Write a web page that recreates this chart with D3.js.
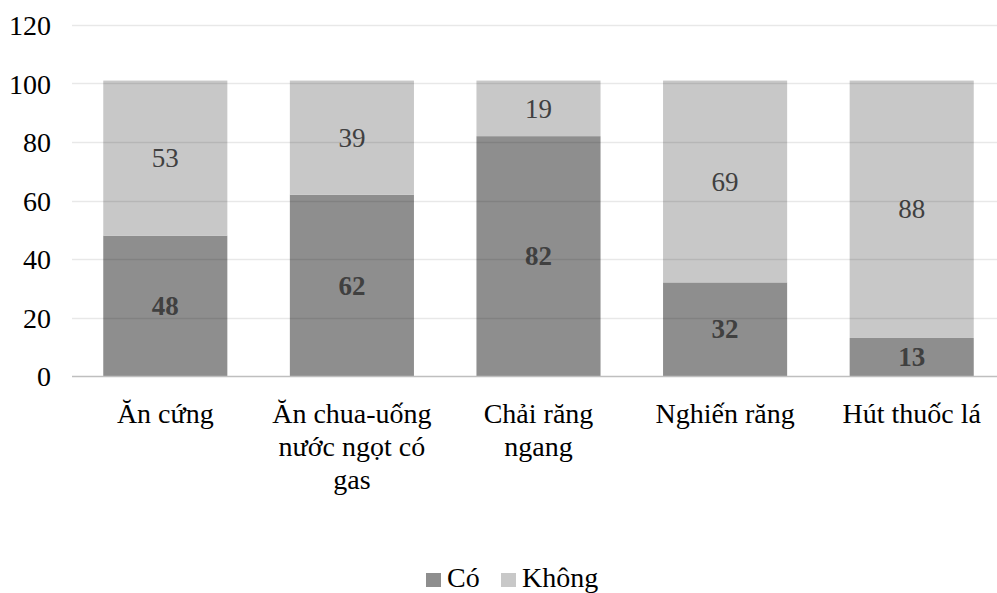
<!DOCTYPE html>
<html>
<head>
<meta charset="utf-8">
<script src="https://cdn.jsdelivr.net/npm/d3@7/dist/d3.min.js"></script>
<style>
  html, body { margin: 0; padding: 0; background: #fff; }
</style>
</head>
<body>
<svg id="chart" width="997" height="593"></svg>
<script>
const categories = ["Ăn cứng", "Ăn chua-uống nước ngọt có gas", "Chải răng ngang", "Nghiến răng", "Hút thuốc lá"];
const seriesNames = ["Có", "Không"];
const coValues = [48, 62, 82, 32, 13];
const khongValues = [53, 39, 19, 69, 88];
const yTicks = [0, 20, 40, 60, 80, 100, 120];

const FONT = "Liberation Serif";
const colors = { "Có": "#8e8e8e", "Không": "#c8c8c8" };

const svg = d3.select("#chart");
const margin = { left: 72, right: -8, top: 25, bottom: 217 };
const W = 997, H = 593;

const x = d3.scaleBand()
  .domain(categories)
  .range([margin.left, W - margin.right])
  .paddingInner(0.335)
  .paddingOuter(0.1675);

const y = d3.scaleLinear()
  .domain([0, 120])
  .range([H - margin.bottom, margin.top]);

const rows = categories.map((c, i) => ({ cat: c, "Có": coValues[i], "Không": khongValues[i] }));
const stacked = d3.stack().keys(seriesNames)(rows);

// bars
const layers = svg.append("g").selectAll("g")
  .data(stacked).join("g")
  .attr("fill", d => colors[d.key]);

layers.selectAll("rect")
  .data(d => d).join("rect")
  .attr("x", d => x(d.data.cat))
  .attr("width", x.bandwidth())
  .attr("y", d => y(d[1]))
  .attr("height", d => y(d[0]) - y(d[1]));

// gridlines drawn over the bars with light translucent strokes
const grid = svg.append("g");
grid.selectAll("line")
  .data(yTicks.filter(t => t > 0)).join("line")
  .attr("x1", margin.left).attr("x2", W)
  .attr("y1", d => Math.round(y(d)) + 0.5).attr("y2", d => Math.round(y(d)) + 0.5)
  .attr("stroke", "rgba(0,0,0,0.09)")
  .attr("stroke-width", 1.5);

// baseline
svg.append("line")
  .attr("x1", margin.left).attr("x2", W)
  .attr("y1", y(0) + 0.5).attr("y2", y(0) + 0.5)
  .attr("stroke", "#bfbfbf").attr("stroke-width", 1.5);

// y axis tick labels
const yAxis = d3.axisLeft(y).tickValues(yTicks).tickSize(0).tickPadding(0);
const yg = svg.append("g").attr("transform", `translate(${margin.left},0)`).call(yAxis);
yg.select(".domain").remove();
yg.selectAll("text")
  .style("font-family", FONT)
  .style("font-size", "28px")
  .attr("fill", "#000")
  .attr("x", -21)
  .attr("dy", "0.34em");

// value labels
layers.each(function(layer) {
  d3.select(this).selectAll("text")
    .data(layer).join("text")
    .attr("x", d => x(d.data.cat) + x.bandwidth() / 2)
    .attr("y", d => (y(d[0]) + y(d[1])) / 2)
    .attr("dy", "0.34em")
    .attr("text-anchor", "middle")
    .style("font-family", FONT)
    .style("font-size", "27px")
    .style("font-weight", layer.key === "Có" ? "bold" : "normal")
    .attr("fill", "#404040")
    .text(d => d[1] - d[0]);
});

// category labels, wrapped to the band
function wrap(text, width) {
  text.each(function() {
    const t = d3.select(this);
    const words = t.text().split(/\s+/);
    const cx = t.attr("x");
    t.text(null);
    let line = [];
    let tspan = t.append("tspan").attr("x", cx).attr("dy", 0);
    words.forEach(w => {
      line.push(w);
      tspan.text(line.join(" "));
      if (tspan.node().getComputedTextLength() > width && line.length > 1) {
        line.pop();
        tspan.text(line.join(" "));
        line = [w];
        tspan = t.append("tspan").attr("x", cx).attr("dy", 33).text(w);
      }
    });
  });
}

svg.append("g").selectAll("text")
  .data(categories).join("text")
  .attr("x", d => x(d) + x.bandwidth() / 2)
  .attr("y", 423)
  .attr("text-anchor", "middle")
  .style("font-family", FONT)
  .style("font-size", "28px")
  .attr("fill", "#000")
  .text(d => d)
  .call(wrap, 172);

// legend
const legend = svg.append("g").attr("transform", "translate(426,587)");
const items = [
  { name: "Có", x: 0 },
  { name: "Không", x: 75 }
];
items.forEach(it => {
  legend.append("rect")
    .attr("x", it.x).attr("y", -14)
    .attr("width", 15).attr("height", 14)
    .attr("fill", colors[it.name]);
  legend.append("text")
    .attr("x", it.x + 21).attr("y", 0)
    .style("font-family", FONT)
    .style("font-size", "28px")
    .attr("fill", "#000")
    .text(it.name);
});
</script>
</body>
</html>
